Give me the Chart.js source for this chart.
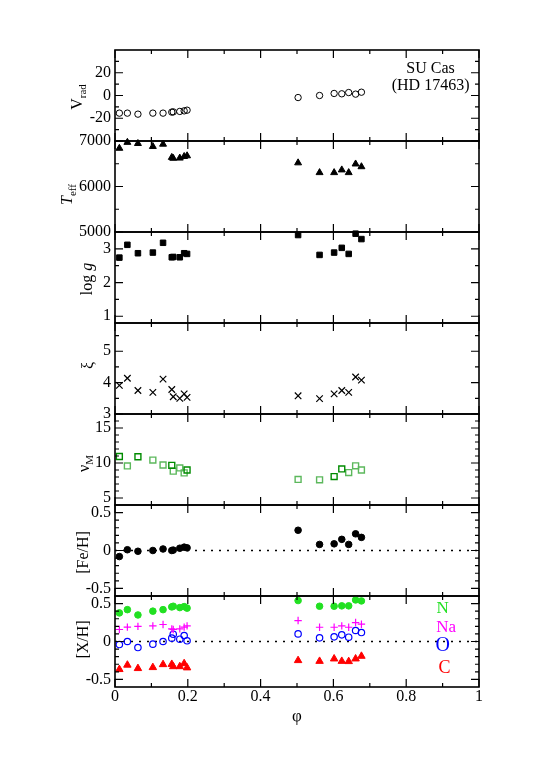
<!DOCTYPE html>
<html>
<head>
<meta charset="utf-8">
<title>SU Cas</title>
<script src="https://cdn.jsdelivr.net/npm/chart.js@4.4.1/dist/chart.umd.min.js"></script>
<style>
  html, body { margin: 0; padding: 0; background: #fff; }
  #wrap { position: relative; width: 545px; height: 771px; overflow: hidden; }
  #wrap canvas { position: absolute; left: 0; }
</style>
</head>
<body>
<div id="wrap"></div>
<script>
// pulsation phase of each spectrum
var phase = [0.012, 0.034, 0.063, 0.104, 0.132, 0.156, 0.160, 0.178, 0.190, 0.198,
             0.503, 0.562, 0.602, 0.623, 0.642, 0.661, 0.677];

var vrad = [-15.5, -15.5, -16.4, -15.5, -15.5, -14.6, -14.4, -14.0, -13.5, -12.9,
            -1.8, 0.0, 1.8, 1.5, 2.6, 1.2, 2.9];
var teff = [6840, 6970, 6945, 6880, 6930, 6640, 6620, 6625, 6660, 6675,
            6520, 6305, 6305, 6365, 6305, 6495, 6435];
var logg = [2.74, 3.12, 2.87, 2.89, 3.18, 2.75, 2.76, 2.75, 2.87, 2.85,
            3.41, 2.82, 2.89, 3.03, 2.85, 3.45, 3.29];
var xi = [3.91, 4.14, 3.75, 3.69, 4.11, 3.78, 3.55, 3.50, 3.64, 3.53,
          3.58, 3.49, 3.64, 3.75, 3.69, 4.18, 4.08];
// macroturbulence, two shades of green in the plot
var vmDark = [10.93, null, 10.89, null, null, 9.67, null, null, null, 9.00,
              null, null, 8.06, 9.15, null, null, null];
var vmLight = [null, 9.58, null, 10.42, 9.72, null, 8.83, 9.30, 8.59, null,
               7.65, 7.60, null, null, 8.63, 9.60, 9.00];
var feh = [-0.08, 0.01, -0.01, 0.0, 0.02, 0.0, 0.005, 0.03, 0.044, 0.035,
           0.267, 0.08, 0.088, 0.147, 0.08, 0.22, 0.173];
var nH = [0.377, 0.42, 0.35, 0.40, 0.42, 0.456, 0.465, 0.447, 0.46, 0.44,
          0.54, 0.465, 0.465, 0.47, 0.47, 0.548, 0.535];
var naH = [0.158, 0.19, 0.20, 0.206, 0.224, 0.167, 0.158, 0.167, 0.19, 0.206,
           0.276, 0.188, 0.188, 0.206, 0.188, 0.25, 0.228];
var oH = [-0.04, 0.0, -0.08, -0.035, 0.0, 0.044, 0.096, 0.03, 0.079, 0.009,
          0.10, 0.048, 0.061, 0.088, 0.057, 0.145, 0.118];
var cH = [-0.368, -0.31, -0.355, -0.342, -0.303, -0.30, -0.33, -0.33, -0.29, -0.346,
          -0.25, -0.26, -0.228, -0.26, -0.263, -0.228, -0.193];

// tick labels
var xTicks = [0, 0.2, 0.4, 0.6, 0.8, 1];
var xMinor = [0.1, 0.3, 0.5, 0.7, 0.9];
var vradTicks = [-20, 0, 20];
var vradMinor = [-30, -10, 10, 30];
var teffTicks = [5000, 6000, 7000];
var teffMinor = [5500, 6500];
var loggTicks = [1, 2, 3];
var loggMinor = [1.5, 2.5];
var xiTicks = [3, 4, 5];
var xiMinor = [3.5, 4.5, 5.5];
var vmTicks = [5, 10, 15];
var vmMinor = [6, 7, 8, 9, 11, 12, 13, 14, 16];
var abTicks = [-0.5, 0, 0.5];
var abMinor = [-0.4, -0.3, -0.2, -0.1, 0.1, 0.2, 0.3, 0.4];

var SERIF = '"Liberation Serif", "Times New Roman", serif';
Chart.defaults.font.family = SERIF;
Chart.defaults.color = '#000';

function pts(ys) {
    var out = [];
    phase.forEach(function (p, i) {
        if (ys[i] !== null) out.push({ x: p, y: ys[i] });
    });
    return out;
}

function marks(ys, style, color, r, fill, bw) {
    return {
        data: pts(ys),
        pointStyle: style,
        pointRadius: r,
        pointBorderColor: color,
        pointBackgroundColor: fill ? color : 'rgba(0,0,0,0)',
        pointBorderWidth: bw || 1,
        showLine: false,
        clip: false
    };
}

function zeroLine() {
    return {
        data: [{ x: 0, y: 0 }, { x: 1, y: 0 }],
        showLine: true,
        borderColor: '#000',
        borderWidth: 1.5,
        borderDash: [2, 6],
        pointRadius: 0,
        order: 5
    };
}

function drawRich(ctx, parts, cx, cy) {
    ctx.save();
    ctx.translate(cx, cy);
    ctx.rotate(-Math.PI / 2);
    ctx.textBaseline = 'middle';
    ctx.textAlign = 'left';
    ctx.fillStyle = '#000';
    var fonts = parts.map(function (p) {
        return (p.it ? 'italic ' : '') + (p.sub ? 11 : 16) + 'px ' + SERIF;
    });
    var total = 0;
    parts.forEach(function (p, i) { ctx.font = fonts[i]; total += ctx.measureText(p.t).width; });
    var x = -total / 2;
    parts.forEach(function (p, i) {
        ctx.font = fonts[i];
        ctx.fillText(p.t, x, p.sub ? 5 : 0);
        x += ctx.measureText(p.t).width;
    });
    ctx.restore();
}

var panelPlugin = {
    id: 'panel',
    afterDraw: function (chart, args, o) {
        var ctx = chart.ctx, a = chart.chartArea;
        var xs = chart.scales.x, ys = chart.scales.y;
        ctx.save();
        ctx.strokeStyle = '#000';
        ctx.lineWidth = 1.2;
        ctx.beginPath();
        function xt(v, len) {
            var px = xs.getPixelForValue(v);
            ctx.moveTo(px, a.top); ctx.lineTo(px, a.top + len);
            ctx.moveTo(px, a.bottom); ctx.lineTo(px, a.bottom - len);
        }
        function yt(v, len) {
            var py = ys.getPixelForValue(v);
            ctx.moveTo(a.left, py); ctx.lineTo(a.left + len, py);
            ctx.moveTo(a.right, py); ctx.lineTo(a.right - len, py);
        }
        xTicks.forEach(function (v) { xt(v, 8); });
        xMinor.forEach(function (v) { xt(v, 4); });
        o.major.forEach(function (v) { yt(v, 8); });
        o.minor.forEach(function (v) { yt(v, 4); });
        ctx.stroke();
        ctx.lineWidth = 1.6;
        ctx.strokeRect(a.left, a.top, a.right - a.left, a.bottom - a.top);
        ctx.restore();

        drawRich(ctx, o.title, o.tx, (a.top + a.bottom) / 2 + o.tdy);

        (o.notes || []).forEach(function (n) {
            ctx.save();
            ctx.font = n.size + 'px ' + SERIF;
            ctx.fillStyle = n.color || '#000';
            ctx.textAlign = 'center';
            ctx.textBaseline = 'middle';
            ctx.fillText(n.t, xs.getPixelForValue(n.x), ys.getPixelForValue(n.y));
            ctx.restore();
        });
    }
};

var panels = [
    { min: -40, max: 40, major: vradTicks, minor: vradMinor,
      title: [{ t: 'V' }, { t: 'rad', sub: true }], tx: 78, tdy: 1.5,
      sets: [marks(vrad, 'circle', '#000', 3.2, false, 1)],
      notes: [{ t: 'SU Cas', x: 0.867, y: 23.7, size: 16 },
              { t: '(HD 17463)', x: 0.867, y: 8.8, size: 16 }] },
    { min: 5000, max: 7000, major: teffTicks, minor: teffMinor,
      title: [{ t: 'T', it: true }, { t: 'eff', sub: true }], tx: 68, tdy: 8,
      sets: [marks(teff, 'triangle', '#000', 4, true, 1)] },
    { min: 0.8, max: 3.5, major: loggTicks, minor: loggMinor,
      title: [{ t: 'log ' }, { t: 'g', it: true }], tx: 88, tdy: 1.5,
      sets: [marks(logg, 'rect', '#000', 3.9, true, 1)] },
    { min: 3, max: 5.9, major: xiTicks, minor: xiMinor,
      title: [{ t: 'ξ' }], tx: 89, tdy: -3,
      sets: [marks(xi, 'crossRot', '#000', 4.6, false, 1.2)] },
    { min: 4, max: 17, major: vmTicks, minor: vmMinor,
      title: [{ t: 'ν' }, { t: 'M', sub: true }], tx: 85, tdy: 4,
      sets: [marks(vmDark, 'rect', '#008b00', 4.2, false, 1.4),
             marks(vmLight, 'rect', '#5cb85c', 4.2, false, 1.4)] },
    { min: -0.6, max: 0.6, major: abTicks, minor: abMinor,
      title: [{ t: '[Fe/H]' }], tx: 84, tdy: 2,
      sets: [zeroLine(), marks(feh, 'circle', '#000', 3.3, true, 1)] },
    { min: -0.6, max: 0.6, major: abTicks, minor: abMinor,
      title: [{ t: '[X/H]' }], tx: 84, tdy: -2,
      sets: [zeroLine(),
             marks(nH, 'circle', '#22e022', 3.3, true, 1),
             marks(naH, 'cross', '#ff00ff', 3.7, false, 1.2),
             marks(oH, 'circle', '#0000ff', 3.2, false, 1.2),
             marks(cH, 'triangle', '#ff0000', 4.3, true, 1)],
      notes: [{ t: 'N', x: 0.9, y: 0.43, size: 17, color: '#22e022' },
              { t: 'Na', x: 0.91, y: 0.19, size: 17, color: '#ff00ff' },
              { t: 'O', x: 0.9, y: -0.06, size: 20, color: '#0000ff' },
              { t: 'C', x: 0.905, y: -0.35, size: 18, color: '#ff0000' }],
      last: true }
];

var tops = [50, 141, 232, 323, 414, 505, 596];
var PH = 91, PAD = 15;
var wrap = document.getElementById('wrap');

panels.forEach(function (p, i) {
    var cv = document.createElement('canvas');
    var xAxisH = p.last ? 40 : 0;
    var h = PAD + PH + (p.last ? xAxisH : PAD);
    cv.width = 545;
    cv.height = h;
    cv.style.top = (tops[i] - PAD) + 'px';
    wrap.appendChild(cv);

    new Chart(cv.getContext('2d'), {
        type: 'scatter',
        data: { datasets: p.sets },
        options: {
            responsive: false,
            animation: false,
            layout: { padding: { left: 0, right: 66, top: PAD, bottom: p.last ? 0 : PAD } },
            plugins: {
                legend: { display: false },
                tooltip: { enabled: false },
                panel: { major: p.major, minor: p.minor, title: p.title, tx: p.tx, tdy: p.tdy, notes: p.notes }
            },
            scales: {
                x: {
                    type: 'linear', min: 0, max: 1,
                    display: !!p.last,
                    grid: { display: false, drawTicks: false },
                    border: { display: false },
                    afterBuildTicks: function (s) { s.ticks = xTicks.map(function (v) { return { value: v }; }); },
                    afterFit: function (s) { if (p.last) s.height = xAxisH; },
                    ticks: { padding: 0, font: { size: 16 }, color: '#000',
                             callback: function (v) { return String(v); } },
                    title: { display: !!p.last, text: 'φ', font: { size: 17 }, color: '#000',
                             padding: { top: 0, bottom: 0 } }
                },
                y: {
                    type: 'linear', min: p.min, max: p.max,
                    grid: { display: false, drawTicks: false },
                    border: { display: false },
                    afterBuildTicks: function (s) { s.ticks = p.major.map(function (v) { return { value: v }; }); },
                    afterFit: function (s) { s.width = 115; },
                    ticks: { padding: 4, font: { size: 16 }, color: '#000',
                             callback: function (v) { return String(v); } }
                }
            }
        },
        plugins: [panelPlugin]
    });
});
</script>
</body>
</html>
